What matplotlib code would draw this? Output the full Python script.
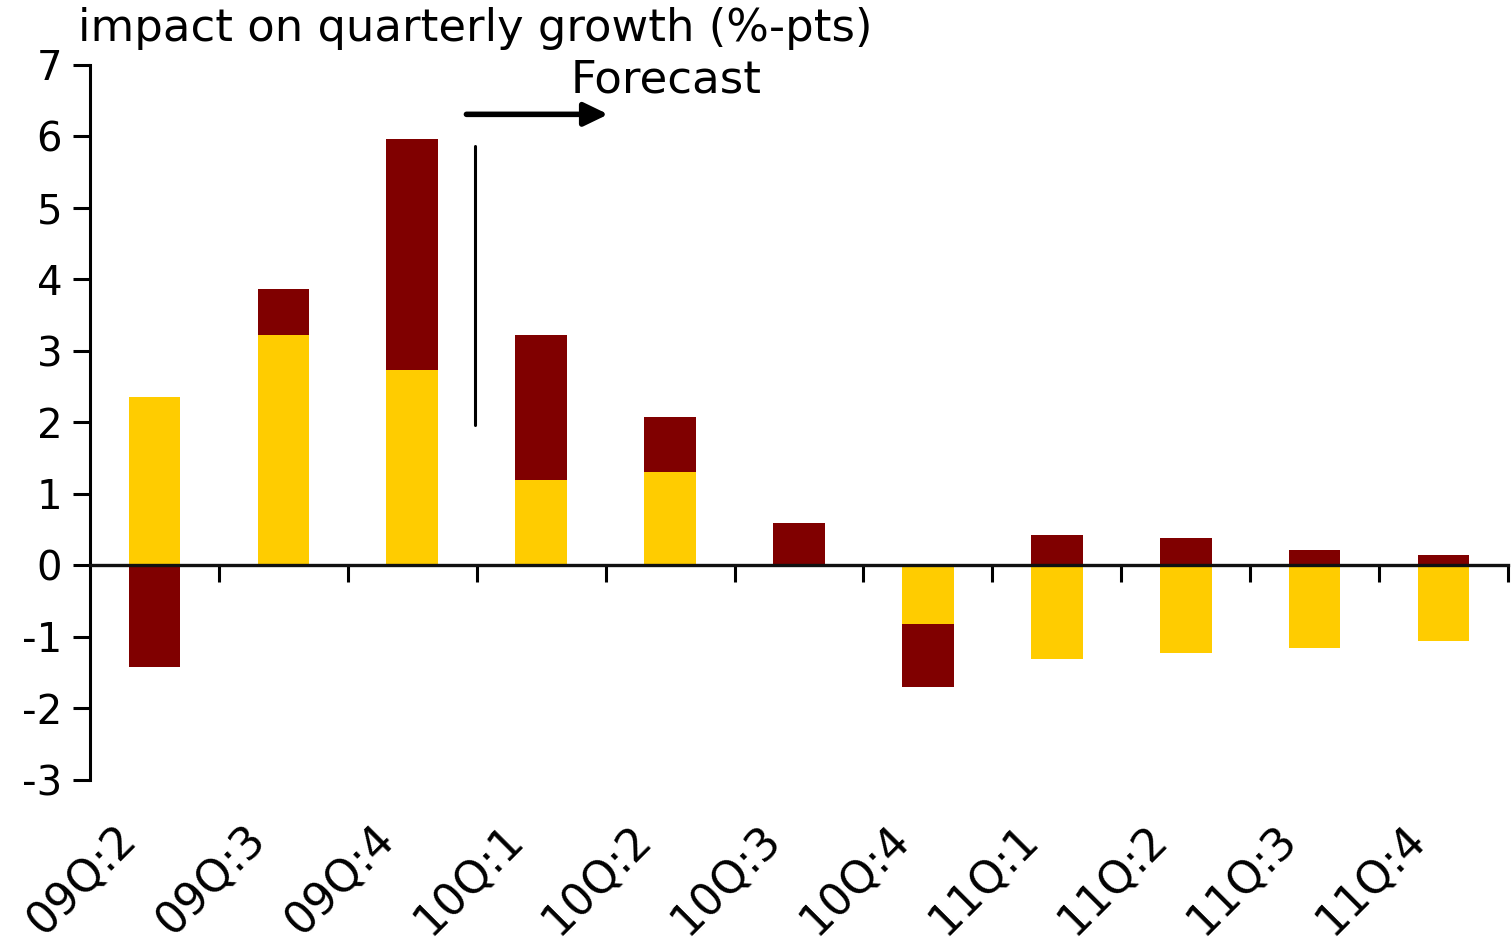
import numpy as np
import matplotlib
matplotlib.use("Agg")
import matplotlib.pyplot as plt
import matplotlib.transforms as mtransforms

# data
quarters = ["09Q:2", "09Q:3", "09Q:4", "10Q:1", "10Q:2", "10Q:3",
            "10Q:4", "11Q:1", "11Q:2", "11Q:3", "11Q:4"]
yellow_part = [2.35, 3.22, 2.73, 1.20, 1.31, 0.00, -0.82, -1.31, -1.22, -1.16, -1.05]
maroon_part = [-1.42, 0.65, 3.23, 2.02, 0.77, 0.60, -0.88, 0.43, 0.38, 0.21, 0.15]

YELLOW, MAROON = "#FFCC00", "#800000"
plt.rcParams["font.family"] = ["DejaVu Sans"]
plt.rcParams["axes.unicode_minus"] = False

x = np.arange(len(quarters))
yv = np.array(yellow_part); mv = np.array(maroon_part)
# maroon stacks on the yellow bar when same sign, otherwise starts from zero
m_bottom = np.where(np.sign(mv) == np.sign(yv), yv, 0.0)

fig = plt.figure(figsize=(15.11, 9.41), dpi=100)
ax = fig.add_axes([90 / 1511, 1 - 780 / 941, (1508 - 90) / 1511, (780 - 65) / 941])

ax.bar(x, yv, width=0.4, color=YELLOW, zorder=2)
ax.bar(x, mv, width=0.4, bottom=m_bottom, color=MAROON, zorder=2)

ax.set_xlim(-0.5, len(quarters) - 0.5)
ax.set_ylim(-3, 7)
ax.set_yticks(range(-3, 8))
ax.tick_params(axis="y", labelsize=29, length=12, width=2.2, direction="out", pad=8)

for s in ("top", "right"):
    ax.spines[s].set_visible(False)
ax.spines["left"].set_linewidth(2.2)
ax.spines["bottom"].set_position(("data", 0))
ax.spines["bottom"].set_linewidth(2.4)
ax.spines["bottom"].set_color("#111111")
ax.spines["bottom"].set_zorder(3)
ax.set_xticks(np.arange(0.5, len(quarters), 1.0))
ax.set_xticklabels([])
ax.tick_params(axis="x", length=12, width=2.2, direction="out")

# category labels at the foot of the chart
off = mtransforms.ScaledTranslation(-40 / 100, 0, fig.dpi_scale_trans)
lab_tr = mtransforms.blended_transform_factory(ax.transData, ax.transAxes) + off
for xi, q in zip(x, quarters):
    ax.text(xi, -38 / 715, q, transform=lab_tr, rotation=45, rotation_mode="anchor",
            ha="right", va="top", fontsize=32)

# forecast marker
ax.plot([2.488, 2.488], [1.96, 5.87], color="black", lw=2.2, solid_capstyle="round",
        clip_on=False)
ax.annotate("", xy=(3.52, 6.31), xytext=(2.42, 6.31),
            arrowprops=dict(arrowstyle="-|>,head_length=1.45,head_width=0.7",
                            color="black", lw=4, shrinkA=0, shrinkB=0,
                            capstyle="round"))
ax.text(3.23, 6.62, "Forecast", fontsize=32.5, ha="left", va="baseline")

fig.text(78 / 1511, 1 - 41 / 941, "impact on quarterly growth (%-pts)",
         fontsize=32.3, ha="left", va="baseline")

fig.savefig("out.png", dpi=100)
